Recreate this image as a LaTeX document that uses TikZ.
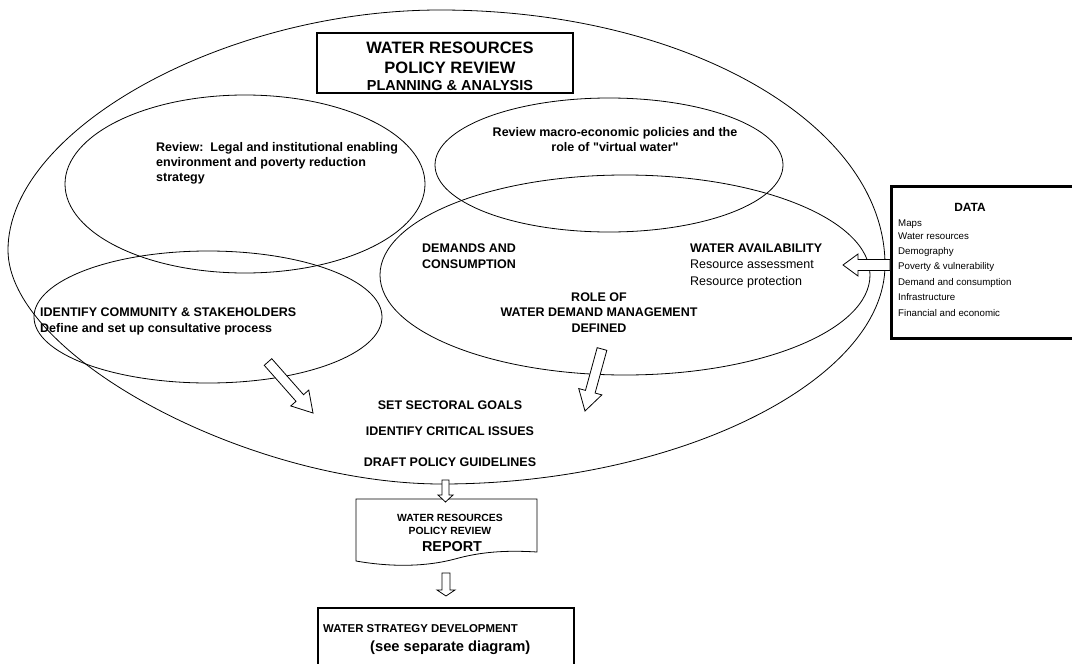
\documentclass[tikz,border=0pt]{standalone}
\usepackage{fontspec}
\setmainfont{Liberation Sans}
\usetikzlibrary{calc,shapes.geometric}

\tikzset{
  oval/.style={draw, ellipse, line width=0.8pt, inner sep=0pt},
  outline/.style={draw, line width=0.8pt},
  frame/.style={draw, fill=white, inner sep=0pt},
  hollow/.style={draw, fill=white, line width=0.8pt, line join=miter},
  boldtxt/.style={font=\bfseries\fontsize{12.5}{15}\selectfont, inner sep=0pt},
  plaintxt/.style={font=\fontsize{12.5}{16.5}\selectfont, inner sep=0pt},
  datatxt/.style={font=\fontsize{9.7}{12}\selectfont, inner sep=0pt, anchor=base west},
}

% hollow block arrow: tail, tip, shaft half width, head half width, head length
\newcommand\hollowarrow[5]{%
  \coordinate (hb) at ($(#2)!#5!(#1)$);
  \draw[hollow] ($(#1)!#3!90:(#2)$) -- ($(hb)!#3!-90:(#1)$) -- ($(hb)!#4!-90:(#1)$)
    -- (#2) -- ($(hb)!#4!90:(#1)$) -- ($(hb)!#3!90:(#1)$) -- ($(#1)!#3!-90:(#2)$) -- cycle;
}

\begin{document}
\begin{tikzpicture}[x=1pt,y=-1pt]
\useasboundingbox (0,0) rectangle (1072,664);
\fill[white] (0,0) rectangle (1072,664);

% the large planning oval
\draw[outline] (8,250) coordinate (outerW)
  .. controls (8,130) and (224,10) .. (440,10) coordinate (outerN)
  .. controls (686,10) and (885,124) .. (885,265) coordinate (outerE)
  .. controls (885,381) and (677,484) .. (442,484) coordinate (outerS)
  .. controls (247,484) and (8,355) .. cycle;

% inner ovals
\node[oval, minimum width=360, minimum height=178] (legal) at (245,184) {};
\node[oval, minimum width=348, minimum height=134] (macro) at (609,165) {};
\node[oval, minimum width=490, minimum height=200] (demand) at (625,275) {};
\node[oval, minimum width=348, minimum height=132] (community) at (208,317) {};

% title box
\node[frame, line width=2.4pt, minimum width=256, minimum height=60] (title) at (445,63) {};
\node[inner sep=0pt, font=\bfseries\fontsize{16.5}{20}\selectfont, anchor=base] (titleA) at (450,53) {WATER RESOURCES};
\node[inner sep=0pt, font=\bfseries\fontsize{16.5}{20}\selectfont, anchor=base] (titleB) at (450,73) {POLICY REVIEW};
\node[inner sep=0pt, font=\bfseries\fontsize{14.5}{17}\selectfont, anchor=base] (titleC) at (450,90.5) {PLANNING \& ANALYSIS};

% texts inside the ovals
\node[boldtxt, align=left, anchor=north west] (legaltxt) at (156,142.4)
  {Review:\ \ Legal and institutional enabling\\environment and poverty reduction\\strategy};
\node[boldtxt, align=center, anchor=north] (macrotxt) at (615,127.4)
  {Review macro-economic policies and the\\role of \textquotedbl virtual water\textquotedbl};
\node[boldtxt, align=left, anchor=north west, font=\bfseries\fontsize{12.5}{16}\selectfont] (demtxt) at (422,243.5)
  {DEMANDS AND\\CONSUMPTION};
\node[plaintxt, align=left, anchor=north west] (availtxt) at (690,243.5)
  {\textbf{WATER AVAILABILITY}\\Resource assessment\\Resource protection};
\node[boldtxt, align=center, anchor=north, font=\bfseries\fontsize{12.5}{15.5}\selectfont] (roletxt) at (599,292.5)
  {ROLE OF\\WATER DEMAND MANAGEMENT\\DEFINED};
\node[boldtxt, align=left, anchor=north west, font=\bfseries\fontsize{12.5}{16}\selectfont] (commtxt) at (40,307.5)
  {IDENTIFY COMMUNITY \& STAKEHOLDERS\\Define and set up consultative process};

% outcomes
\node[boldtxt, anchor=base] (goals) at (450,409.5) {SET SECTORAL GOALS};
\node[boldtxt, anchor=base] (issues) at (450,435.5) {IDENTIFY CRITICAL ISSUES};
\node[boldtxt, anchor=base] (draft) at (450,466.5) {DRAFT POLICY GUIDELINES};

% data box
\node[frame, line width=3pt, minimum width=190, minimum height=152, anchor=north west] (data) at (890,185) {};
\node[inner sep=0pt, font=\bfseries\fontsize{11.9}{14}\selectfont, anchor=base] (datatitle) at (970,211) {DATA};
\node[datatxt] (d1) at (898,226.5) {Maps};
\node[datatxt] (d2) at (898,239.5) {Water resources};
\node[datatxt] (d3) at (898,254.5) {Demography};
\node[datatxt] (d4) at (898,269.5) {Poverty \& vulnerability};
\node[datatxt] (d5) at (898,285.5) {Demand and consumption};
\node[datatxt] (d6) at (898,300.5) {Infrastructure};
\node[datatxt] (d7) at (898,316.5) {Financial and economic};

% report document shape
\draw[line width=0.8pt, fill=white] (356,499) coordinate (rTL) -- (537,499) coordinate (rTR) -- (537,552)
  .. controls (505,550) and (480,552) .. (455,559)
  .. controls (425,567) and (390,567) .. (356,561) -- cycle;
\node[inner sep=0pt, font=\bfseries\fontsize{10.4}{12}\selectfont, anchor=base] (repA) at (450,521) {WATER RESOURCES};
\node[inner sep=0pt, font=\bfseries\fontsize{10.4}{12}\selectfont, anchor=base] (repB) at (450,534) {POLICY REVIEW};
\node[inner sep=0pt, font=\bfseries\fontsize{14.4}{16}\selectfont, anchor=base] (repC) at (452,551) {REPORT};

% strategy box
\node[frame, line width=2.4pt, minimum width=256, minimum height=62, anchor=north west] (strategy) at (317,607) {};
\node[inner sep=0pt, font=\bfseries\fontsize{11.4}{13}\selectfont, anchor=base west] (stratA) at (323,632) {WATER STRATEGY DEVELOPMENT};
\node[inner sep=0pt, font=\bfseries\fontsize{14.7}{17}\selectfont, anchor=base west] (stratB) at (370,651.5) {(see separate diagram)};

% arrows
\coordinate (dataTail) at (data.west |- 0,265);
\coordinate (dataTip) at (843,265);
\hollowarrow{dataTail}{dataTip}{5.5pt}{11pt}{15pt}

\coordinate (commTail) at (268,362);
\coordinate (commTip) at (313,413);
\hollowarrow{commTail}{commTip}{5pt}{12pt}{20pt}

\coordinate (demTail) at (602,349);
\coordinate (demTip) at (585,411);
\hollowarrow{demTail}{demTip}{5pt}{12pt}{20pt}

\coordinate (outTail) at (445.5,480);
\coordinate (outTip) at (445.5,502);
\hollowarrow{outTail}{outTip}{3.5pt}{7.5pt}{7pt}

\coordinate (repTail) at (446,573);
\coordinate (repTip) at (446,596);
\hollowarrow{repTail}{repTip}{4pt}{9pt}{6pt}
\end{tikzpicture}
\end{document}
